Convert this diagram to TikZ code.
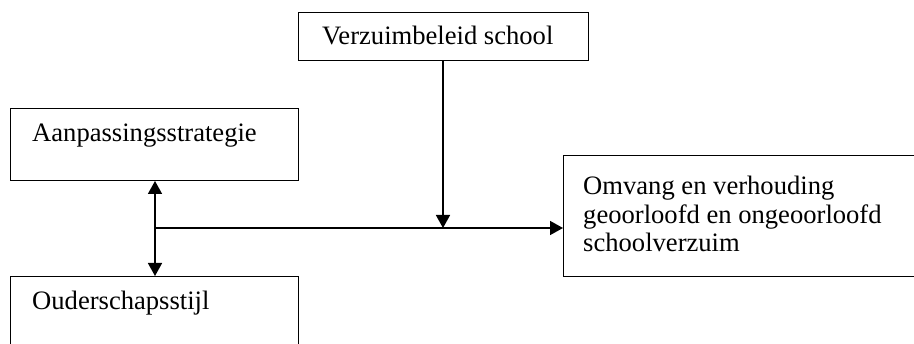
\documentclass[tikz,border=0pt]{standalone}
\usepackage{fontspec}
\setmainfont{Liberation Serif}
\usetikzlibrary{arrows.meta}
\begin{document}
\begin{tikzpicture}[x=1pt,y=-1pt,
  box/.style={draw=black, line width=1pt, rectangle, inner sep=0pt, anchor=north west},
  lbl/.style={anchor=base west, inner sep=0pt, font=\fontsize{26.6}{28.5}\selectfont, align=left},
  conn/.style={line width=1.6pt, -{Triangle[length=13pt,width=14pt]}},
  dconn/.style={line width=1.6pt, {Triangle[length=13pt,width=14pt]}-{Triangle[length=13pt,width=14pt]}}]
\clip (0,0) rectangle (914,344);
\useasboundingbox (0,0) rectangle (914,344);
\node[box, minimum width=288pt, minimum height=72pt] (a) at (10,108) {};
\node[box, minimum width=288pt, minimum height=90pt] (o) at (10,276) {};
\node[box, minimum width=290pt, minimum height=48pt] (v) at (298,12) {};
\node[box, minimum width=370pt, minimum height=121pt] (om) at (563,155) {};
\node[lbl] (ta) at (32,142) {Aanpassingsstrategie};
\node[lbl] (to) at (32,310) {Ouderschapsstijl};
\node[lbl] (tv) at (322,45) {Verzuimbeleid school};
\node[lbl] (tom) at (583,252) {Omvang en verhouding\\geoorloofd en ongeoorloofd\\schoolverzuim};
\coordinate (j) at (155,228);
\coordinate (m) at (443,228);
\draw[conn] (j) -- (om.west |- j);
\draw[conn] (v.south -| m) -- (m);
\draw[dconn] (a.south -| j) -- (o.north -| j);
\end{tikzpicture}
\end{document}
